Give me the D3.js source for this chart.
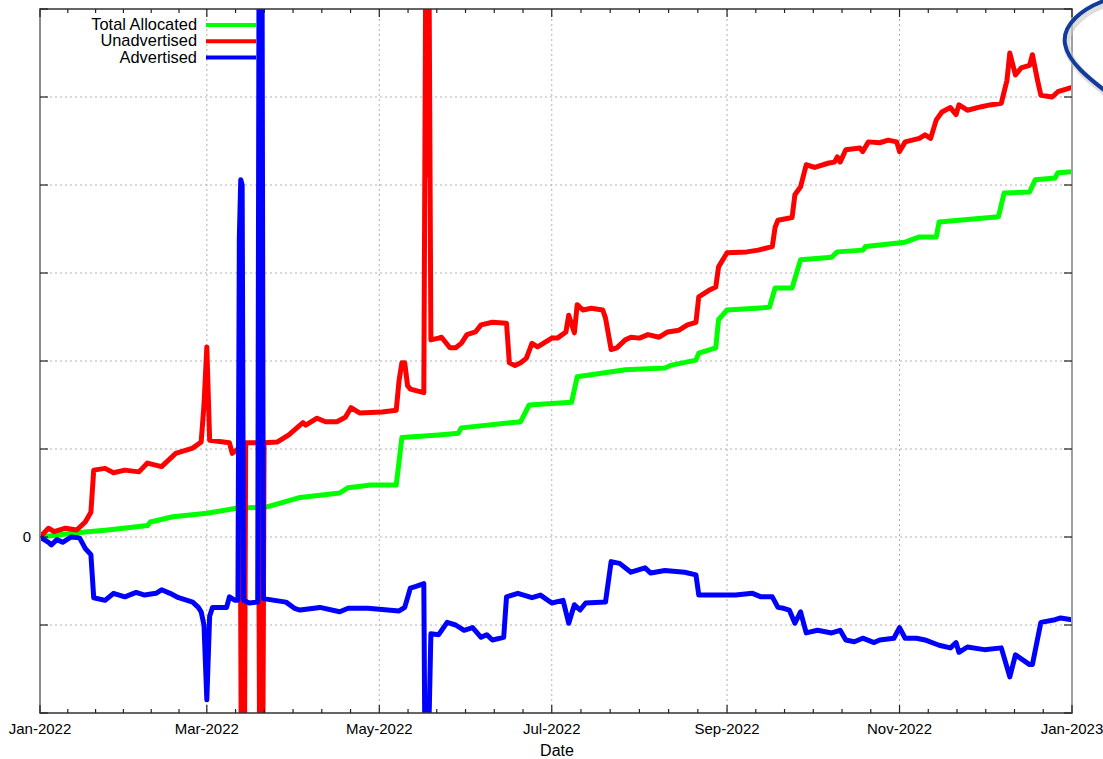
<!DOCTYPE html>
<meta charset="utf-8">
<title>Allocated / Unadvertised / Advertised</title>
<style>
* { margin: 0; padding: 0; }
body { background: #fff; font-family: "Liberation Sans", Arial, sans-serif; }
svg { display: block; }
.grid line { stroke: #b0b0b0; stroke-width: 1; stroke-dasharray: 2,3; }
.tick-label { font-size: 15px; fill: #000; }
.legend-label { font-size: 16.4px; fill: #000; }
.series { fill: none; stroke-width: 5; stroke-linejoin: round; stroke-linecap: round; }
</style>
<body>
<script src="https://cdnjs.cloudflare.com/ajax/libs/d3/7.8.5/d3.min.js"></script>
<script>

// data (one y grid step = 1 unit)
var totalAllocated = [
  ["2022-01-01",0],["2022-01-15",0.05],["2022-01-25",0.08],["2022-02-08",0.13],["2022-02-09",0.17],
  ["2022-02-17",0.23],["2022-03-01",0.27],["2022-03-12",0.33],["2022-03-22",0.34],["2022-04-03",0.45],
  ["2022-04-17",0.50],["2022-04-20",0.56],["2022-04-28",0.59],["2022-05-07",0.59],["2022-05-09",1.13],
  ["2022-05-22",1.16],["2022-05-29",1.18],["2022-05-30",1.24],["2022-06-20",1.31],["2022-06-23",1.50],
  ["2022-07-08",1.53],["2022-07-10",1.82],["2022-07-27",1.90],["2022-08-10",1.92],["2022-08-12",1.95],
  ["2022-08-21",2.01],["2022-08-22",2.09],["2022-08-28",2.15],["2022-08-29",2.47],["2022-09-01",2.58],
  ["2022-09-16",2.61],["2022-09-18",2.83],["2022-09-24",2.83],["2022-09-27",3.15],["2022-10-08",3.18],
  ["2022-10-10",3.24],["2022-10-19",3.26],["2022-10-20",3.30],["2022-11-03",3.35],["2022-11-08",3.41],
  ["2022-11-14",3.41],["2022-11-15",3.58],["2022-12-06",3.64],["2022-12-08",3.91],["2022-12-17",3.92],
  ["2022-12-19",4.06],["2022-12-26",4.08],["2022-12-27",4.14],["2023-01-01",4.15]
];

var unadvertised = [
  ["2022-01-01",0],["2022-01-04",0.10],["2022-01-06",0.06],["2022-01-10",0.10],["2022-01-14",0.08],
  ["2022-01-17",0.17],["2022-01-19",0.28],["2022-01-20",0.76],["2022-01-24",0.78],["2022-01-27",0.73],
  ["2022-01-31",0.76],["2022-02-05",0.74],["2022-02-08",0.84],["2022-02-13",0.80],["2022-02-18",0.95],
  ["2022-02-24",1.01],["2022-02-27",1.08],["2022-02-28",1.50],["2022-03-01",2.16],["2022-03-02",1.10],
  ["2022-03-09",1.07],["2022-03-10",0.95],["2022-03-12T18",1.02],["2022-03-13T06",-3],["2022-03-14T06",-3],
  ["2022-03-14T18",1.07],["2022-03-17",1.07],["2022-03-19T06",1.07],["2022-03-19T18",-3],["2022-03-20T18",-3],
  ["2022-03-21T06",1.07],["2022-03-26",1.08],["2022-03-30",1.16],["2022-04-04",1.30],["2022-04-05",1.27],
  ["2022-04-09",1.35],["2022-04-12",1.31],["2022-04-16",1.31],["2022-04-19",1.36],["2022-04-21",1.47],
  ["2022-04-24",1.41],["2022-05-02",1.42],["2022-05-07",1.44],["2022-05-08",1.78],["2022-05-09",1.98],
  ["2022-05-10",1.98],["2022-05-11",1.72],["2022-05-12",1.68],["2022-05-16T18",1.64],["2022-05-17T12",7],
  ["2022-05-18",4.11],["2022-05-18T12",7],["2022-05-19T06",2.24],["2022-05-22",2.26],["2022-05-23",2.27],
  ["2022-05-26",2.15],["2022-05-28",2.15],["2022-05-30",2.20],["2022-06-01",2.30],["2022-06-04",2.33],
  ["2022-06-06",2.41],["2022-06-10",2.44],["2022-06-15",2.43],["2022-06-16",1.98],["2022-06-18",1.95],
  ["2022-06-20",1.98],["2022-06-22",2.03],["2022-06-24",2.20],["2022-06-26",2.16],["2022-07-01",2.26],
  ["2022-07-03",2.26],["2022-07-06",2.33],["2022-07-07",2.52],["2022-07-09",2.32],["2022-07-10",2.64],
  ["2022-07-12",2.58],["2022-07-15",2.60],["2022-07-19",2.58],["2022-07-20",2.49],["2022-07-22",2.13],
  ["2022-07-24",2.15],["2022-07-27",2.24],["2022-07-29",2.27],["2022-08-01",2.26],["2022-08-04",2.30],
  ["2022-08-08",2.27],["2022-08-11",2.33],["2022-08-15",2.35],["2022-08-18",2.41],["2022-08-21",2.44],
  ["2022-08-22",2.73],["2022-08-26",2.81],["2022-08-28",2.84],["2022-08-29",3.07],["2022-09-01",3.23],
  ["2022-09-08",3.24],["2022-09-12",3.26],["2022-09-17",3.30],["2022-09-18",3.52],["2022-09-19",3.60],
  ["2022-09-24",3.63],["2022-09-25",3.89],["2022-09-27",3.98],["2022-09-29",4.23],["2022-10-02",4.20],
  ["2022-10-07",4.25],["2022-10-09",4.26],["2022-10-10",4.32],["2022-10-11",4.26],["2022-10-13",4.40],
  ["2022-10-18",4.42],["2022-10-19",4.38],["2022-10-21",4.49],["2022-10-25",4.48],["2022-10-28",4.51],
  ["2022-10-31",4.49],["2022-11-01",4.38],["2022-11-03",4.49],["2022-11-08",4.53],["2022-11-10",4.57],
  ["2022-11-12",4.53],["2022-11-14",4.74],["2022-11-16",4.83],["2022-11-19",4.88],["2022-11-21",4.80],
  ["2022-11-22",4.91],["2022-11-25",4.85],["2022-11-30",4.89],["2022-12-03",4.91],["2022-12-07",4.93],
  ["2022-12-09",5.19],["2022-12-10",5.50],["2022-12-12",5.25],["2022-12-14",5.33],["2022-12-17",5.36],
  ["2022-12-18",5.48],["2022-12-20",5.16],["2022-12-21",5.02],["2022-12-25",5.00],["2022-12-27",5.06],
  ["2023-01-01",5.11]
];

var advertised = [
  ["2022-01-01",0],["2022-01-04",-0.06],["2022-01-05",-0.09],["2022-01-07",-0.03],["2022-01-09",-0.06],
  ["2022-01-12",0],["2022-01-15",-0.01],["2022-01-17",-0.13],["2022-01-19",-0.20],["2022-01-20",-0.69],
  ["2022-01-24",-0.72],["2022-01-27",-0.64],["2022-01-31",-0.68],["2022-02-04",-0.63],["2022-02-07",-0.66],
  ["2022-02-11",-0.64],["2022-02-13",-0.60],["2022-02-16",-0.64],["2022-02-19",-0.69],["2022-02-24",-0.74],
  ["2022-02-26",-0.80],["2022-02-27",-0.85],["2022-02-28",-1.00],["2022-03-01",-1.85],["2022-03-02",-0.90],
  ["2022-03-03",-0.80],["2022-03-08",-0.80],["2022-03-09",-0.68],["2022-03-11",-0.72],["2022-03-12",-0.72],
  ["2022-03-12T12",3.40],["2022-03-13",4.06],["2022-03-13T12",4.0],["2022-03-14",-0.72],["2022-03-16",-0.75],
  ["2022-03-19",-0.74],["2022-03-19T12",7],["2022-03-20T12",7],["2022-03-21",-0.70],["2022-03-25",-0.72],
  ["2022-03-29",-0.74],["2022-04-01",-0.81],["2022-04-03",-0.83],["2022-04-10",-0.80],["2022-04-17",-0.85],
  ["2022-04-20",-0.81],["2022-04-27",-0.81],["2022-05-01",-0.82],["2022-05-08",-0.84],["2022-05-10",-0.80],
  ["2022-05-12",-0.58],["2022-05-14",-0.56],["2022-05-16T18",-0.53],["2022-05-17T06",-3],["2022-05-18",-3],
  ["2022-05-19T06",-1.10],["2022-05-22",-1.11],["2022-05-25",-0.97],["2022-05-28",-1.00],["2022-05-31",-1.06],
  ["2022-06-03",-1.03],["2022-06-06",-1.14],["2022-06-08",-1.11],["2022-06-10",-1.17],["2022-06-14",-1.14],
  ["2022-06-15",-0.68],["2022-06-19",-0.64],["2022-06-24",-0.69],["2022-06-27",-0.66],["2022-07-01",-0.75],
  ["2022-07-05",-0.72],["2022-07-07",-0.98],["2022-07-09",-0.77],["2022-07-11",-0.83],["2022-07-13",-0.75],
  ["2022-07-20",-0.74],["2022-07-22",-0.28],["2022-07-25",-0.30],["2022-07-29",-0.40],["2022-08-03",-0.35],
  ["2022-08-05",-0.41],["2022-08-10",-0.38],["2022-08-17",-0.40],["2022-08-21",-0.43],["2022-08-22",-0.66],
  ["2022-08-29",-0.66],["2022-09-04",-0.66],["2022-09-10",-0.64],["2022-09-13",-0.68],["2022-09-17",-0.68],
  ["2022-09-19",-0.80],["2022-09-21",-0.81],["2022-09-23",-0.83],["2022-09-25",-0.98],["2022-09-27",-0.85],
  ["2022-09-29",-1.09],["2022-10-03",-1.06],["2022-10-08",-1.09],["2022-10-11",-1.06],["2022-10-13",-1.17],
  ["2022-10-16",-1.19],["2022-10-19",-1.15],["2022-10-23",-1.20],["2022-10-25",-1.17],["2022-10-30",-1.15],
  ["2022-11-01",-1.03],["2022-11-03",-1.15],["2022-11-07",-1.15],["2022-11-10",-1.17],["2022-11-15",-1.23],
  ["2022-11-19",-1.26],["2022-11-21",-1.20],["2022-11-22",-1.31],["2022-11-25",-1.25],["2022-12-01",-1.28],
  ["2022-12-07",-1.26],["2022-12-10",-1.59],["2022-12-12",-1.34],["2022-12-17",-1.45],["2022-12-18",-1.45],
  ["2022-12-21",-0.97],["2022-12-26",-0.94],["2022-12-28",-0.92],["2023-01-01",-0.94]
];

var seriesNames = ["Total Allocated", "Unadvertised", "Advertised"];
var seriesColors = ["#00ff00", "#ff0000", "#0000ff"];
var seriesData = [totalAllocated, unadvertised, advertised];

var xDomain = ["2022-01-01", "2023-01-01"];
var yTicks = [-2, -1, 0, 1, 2, 3, 4, 5, 6];
var yTickLabels = ["", "", "0", "", "", "", "", "", ""];
var xLabel = "Date";

var width = 1103, height = 759;
// note: "top" is a read-only window global, so prefix these
var plotLeft = 40, plotRight = 1072, plotTop = 9, plotBottom = 713;

var parseDay = d3.utcParse("%Y-%m-%d"),
    parseHour = d3.utcParse("%Y-%m-%dT%H");
function parseDate(s){ return s.length > 10 ? parseHour(s) : parseDay(s); }

var x = d3.scaleUtc()
  .domain(xDomain.map(parseDate))
  .range([plotLeft, plotRight]);

var y = d3.scaleLinear()
  .domain([yTicks[0], yTicks[yTicks.length - 1]])
  .range([plotBottom, plotTop]);

var svg = d3.select("body").append("svg")
  .attr("width", width)
  .attr("height", height);

svg.append("defs").append("clipPath")
  .attr("id", "plot-clip")
  .append("rect")
  .attr("x", plotLeft).attr("y", plotTop)
  .attr("width", plotRight - plotLeft).attr("height", plotBottom - plotTop);

// ticks: majors every 2 months, 6 minor intervals between
var majorTicks = x.ticks(d3.utcMonth.every(2));
var minorPos = [];
for (var i = 0; i < majorTicks.length - 1; i++){
  var a = x(majorTicks[i]), b = x(majorTicks[i + 1]);
  for (var k = 1; k < 6; k++) minorPos.push(a + (b - a) * k / 6);
}

/* grid */
var grid = svg.append("g").attr("class", "grid");
grid.selectAll(".vg")
  .data(majorTicks.filter(function(d){ return x(d) > plotLeft + 1 && x(d) < plotRight - 1; }))
  .enter().append("line")
  .attr("x1", function(d){ return x(d); }).attr("x2", function(d){ return x(d); })
  .attr("y1", plotTop).attr("y2", plotBottom);
grid.selectAll(".hg")
  .data(yTicks.filter(function(d){ return y(d) > plotTop + 1 && y(d) < plotBottom - 1; }))
  .enter().append("line")
  .attr("x1", plotLeft).attr("x2", plotRight)
  .attr("y1", function(d){ return y(d); }).attr("y2", function(d){ return y(d); });

/* lines */
var line = d3.line()
  .x(function(d){ return x(parseDate(d[0])); })
  .y(function(d){ return y(d[1]); });

svg.append("g")
  .attr("clip-path", "url(#plot-clip)")
  .selectAll("path")
  .data(seriesData)
  .enter().append("path")
  .attr("class", "series")
  .attr("stroke", function(d, i){ return seriesColors[i]; })
  .attr("d", line);

/* border */
svg.append("rect")
  .attr("x", plotLeft).attr("y", plotTop)
  .attr("width", plotRight - plotLeft).attr("height", plotBottom - plotTop)
  .attr("fill", "none")
  .attr("stroke", "#333")
  .attr("stroke-width", 1.5);
svg.append("line")
  .attr("x1", plotLeft).attr("x2", plotLeft).attr("y1", plotTop).attr("y2", plotBottom)
  .attr("stroke", "#8c8c8c").attr("stroke-width", 2);
svg.append("line")
  .attr("x1", plotRight).attr("x2", plotRight).attr("y1", plotTop).attr("y2", plotBottom)
  .attr("stroke", "#a0a0a0").attr("stroke-width", 2);

/* tick marks */
var ticks = svg.append("g").attr("stroke", "#222").attr("stroke-width", 1.2);
majorTicks.forEach(function(d){
  ticks.append("line").attr("x1", x(d)).attr("x2", x(d)).attr("y1", plotBottom).attr("y2", plotBottom - 8);
  ticks.append("line").attr("x1", x(d)).attr("x2", x(d)).attr("y1", plotTop).attr("y2", plotTop + 8);
});
minorPos.forEach(function(p){
  ticks.append("line").attr("x1", p).attr("x2", p).attr("y1", plotBottom).attr("y2", plotBottom - 4);
  ticks.append("line").attr("x1", p).attr("x2", p).attr("y1", plotTop).attr("y2", plotTop + 4);
});
yTicks.forEach(function(d){
  ticks.append("line").attr("x1", plotLeft).attr("x2", plotLeft + 8).attr("y1", y(d)).attr("y2", y(d));
  ticks.append("line").attr("x1", plotRight).attr("x2", plotRight - 8).attr("y1", y(d)).attr("y2", y(d));
});

/* tick labels */
var fmt = d3.utcFormat("%b-%Y");
svg.append("g").selectAll("text")
  .data(majorTicks)
  .enter().append("text")
  .attr("class", "tick-label")
  .attr("x", function(d){ return x(d); })
  .attr("y", plotBottom + 21)
  .attr("text-anchor", "middle")
  .text(fmt);

svg.append("g").selectAll("text")
  .data(yTicks)
  .enter().append("text")
  .attr("class", "tick-label")
  .attr("x", plotLeft - 9)
  .attr("y", function(d){ return y(d) + 5; })
  .attr("text-anchor", "end")
  .text(function(d, i){ return yTickLabels[i]; });

svg.append("text")
  .attr("class", "tick-label")
  .style("font-size", "16px")
  .attr("x", (plotLeft + plotRight) / 2 + 1)
  .attr("y", 756)
  .attr("text-anchor", "middle")
  .text(xLabel);

/* legend */
var legend = svg.append("g");
seriesNames.forEach(function(name, i){
  var ly = 25 + i * 16.3;
  legend.append("text")
    .attr("class", "legend-label")
    .attr("x", 197)
    .attr("y", ly + 5)
    .attr("text-anchor", "end")
    .text(name);
  legend.append("line")
    .attr("x1", 206).attr("x2", 256)
    .attr("y1", ly).attr("y2", ly)
    .attr("stroke", seriesColors[i])
    .attr("stroke-width", 4);
});

/* the callout outline cut off at the top right */
var callout = "M1112,-2 C1080,8 1062,26 1065,44 C1068,62 1088,78 1112,96";
svg.append("path")
  .attr("d", callout)
  .attr("fill", "none")
  .attr("stroke", "#c8c8c8")
  .attr("stroke-width", 7)
  .attr("transform", "translate(2,3)")
  .attr("opacity", 0.6);
svg.append("path")
  .attr("d", callout)
  .attr("fill", "none")
  .attr("stroke", "#123c9c")
  .attr("stroke-width", 4);

</script>
</body>
